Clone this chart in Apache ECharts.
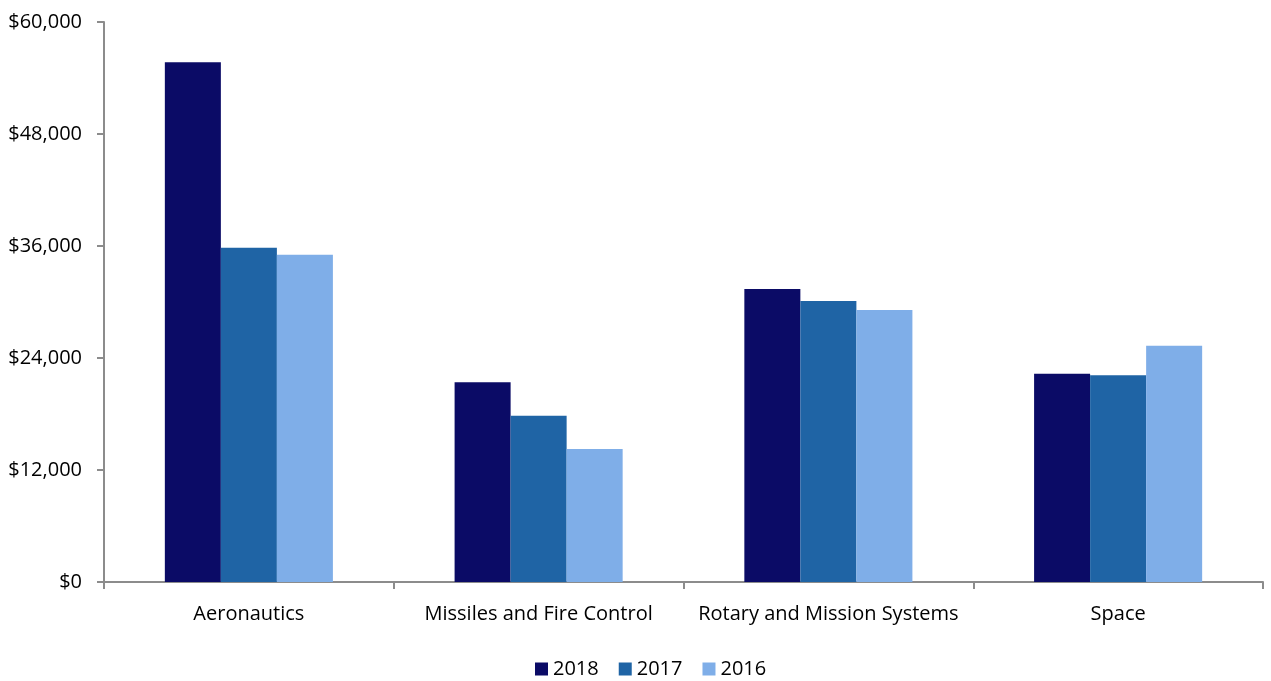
<!DOCTYPE html>
<html>
<head>
<meta charset="utf-8">
<script src="https://cdn.jsdelivr.net/npm/echarts@6/dist/echarts.min.js"></script>
<style>
  html, body { margin: 0; padding: 0; background: #fff; }
  #chart { width: 1271px; height: 681px; }
</style>
</head>
<body>
<div id="chart"></div>
<script>
// segments on the x axis
var categories = ["Aeronautics", "Missiles and Fire Control", "Rotary and Mission Systems", "Space"];
// values per year
var sales2018 = [55700, 21400, 31400, 22300];
var sales2017 = [35800, 17800, 30100, 22150];
var sales2016 = [35050, 14250, 29150, 25300];
var yTicks = [0, 12000, 24000, 36000, 48000, 60000];

var font = "'Open Sans', 'Noto Sans', sans-serif";
var myChart = echarts.init(document.getElementById("chart"));

function money(v) {
  return "$" + v.toLocaleString("en-US");
}

var option = {
  backgroundColor: "#fff",
  animation: false,
  textStyle: { fontFamily: font },
  grid: { left: 104, right: 8, top: 22, bottom: 99, containLabel: false },
  legend: {
    bottom: -3,
    left: 530,
    itemWidth: 13,
    itemHeight: 13,
    itemGap: 20,
    icon: "rect",
    textStyle: { fontSize: 20, color: "#000", fontFamily: font },
    data: ["2018", "2017", "2016"]
  },
  xAxis: {
    type: "category",
    data: categories,
    axisLine: { lineStyle: { color: "#8c8c8c", width: 2 } },
    axisTick: { show: true, interval: 0, length: 7, lineStyle: { color: "#8c8c8c", width: 2 } },
    axisLabel: { interval: 0, fontSize: 20, color: "#000", margin: 22, fontFamily: font }
  },
  yAxis: {
    type: "value",
    min: yTicks[0],
    max: yTicks[yTicks.length - 1],
    interval: 12000,
    axisLine: { show: true, lineStyle: { color: "#8c8c8c", width: 2 } },
    axisTick: { show: true, length: 7, lineStyle: { color: "#8c8c8c", width: 2 } },
    splitLine: { show: false },
    axisLabel: { fontSize: 20, color: "#000", margin: 22, fontFamily: font, formatter: money }
  },
  series: [
    { name: "2018", type: "bar", data: sales2018, barGap: "0%", barCategoryGap: "42%",
      itemStyle: { color: "#0b0b66" } },
    { name: "2017", type: "bar", data: sales2017, barGap: "0%", barCategoryGap: "42%",
      itemStyle: { color: "#1f64a5" } },
    { name: "2016", type: "bar", data: sales2016, barGap: "0%", barCategoryGap: "42%",
      itemStyle: { color: "#7faee8" } }
  ]
};

myChart.setOption(option);
</script>
</body>
</html>
